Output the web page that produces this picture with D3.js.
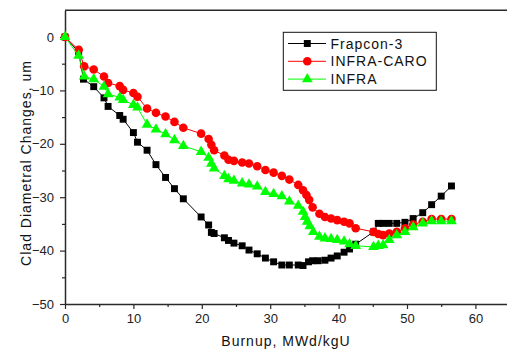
<!DOCTYPE html>
<html>
<head>
<meta charset="utf-8">
<script src="https://cdn.jsdelivr.net/npm/d3@7"></script>
<style>
  html, body { margin: 0; padding: 0; background: #fff; }
  svg { display: block; font-family: "Liberation Sans", Arial, sans-serif; }
</style>
</head>
<body>
<svg id="chart" width="507" height="352"></svg>
<script>
// ---- data ----
const frapconX = [0, 2.0, 2.7, 4.2, 5.7, 6.3, 8.0, 8.5, 10.0, 10.6, 12.0, 13.3, 14.7, 16.0, 17.3, 19.9, 21.0, 21.4, 21.8, 23.3, 23.9, 24.7, 25.9, 26.9, 28.1, 29.3, 30.5, 31.7, 32.8, 34.1, 34.8, 35.6, 36.2, 37.0, 38.0, 38.9, 39.8, 40.8, 41.6, 42.5, 45.1, 45.8, 46.5, 47.4, 48.5, 49.7, 50.9, 52.3, 53.6, 55.0, 56.5];
const frapconY = [0, -2.8, -7.9, -9.3, -11.4, -13.0, -14.7, -15.4, -17.9, -19.7, -21.2, -23.9, -26.3, -28.4, -30.3, -33.7, -35.2, -36.6, -36.8, -37.6, -38.1, -38.6, -39.1, -39.9, -40.6, -41.4, -42.1, -42.7, -42.7, -42.7, -42.8, -42.1, -41.9, -41.9, -41.8, -41.4, -41.0, -40.3, -39.7, -38.8, -36.5, -34.9, -34.9, -34.9, -34.9, -34.7, -34.0, -32.9, -31.4, -29.8, -27.9];

const caroX = [0, 2.0, 2.8, 4.2, 5.7, 6.3, 8.0, 8.5, 10.0, 10.6, 12.0, 13.3, 14.7, 16.0, 17.3, 19.9, 21.0, 21.4, 21.8, 23.3, 23.9, 24.7, 25.9, 26.9, 28.1, 29.3, 30.5, 31.7, 32.8, 34.1, 34.8, 35.3, 35.7, 36.2, 37.2, 38.0, 38.9, 39.8, 40.8, 41.6, 42.5, 45.1, 45.8, 46.5, 47.4, 48.5, 49.7, 50.9, 52.3, 53.6, 55.0, 56.5];
const caroY = [0, -2.4, -5.5, -6.1, -7.4, -8.6, -9.2, -9.9, -10.5, -11.2, -13.4, -14.2, -14.9, -15.9, -17.0, -18.1, -19.1, -20.2, -21.2, -22.2, -23.0, -23.2, -23.5, -23.7, -24.2, -24.9, -25.4, -26.0, -26.7, -27.7, -28.7, -29.6, -30.5, -31.9, -33.1, -33.7, -34.0, -34.3, -34.6, -34.9, -35.8, -36.5, -36.9, -37.1, -36.8, -36.5, -35.8, -35.1, -34.6, -34.1, -34.1, -34.1];

const infraX = [0, 2.0, 2.8, 4.2, 5.7, 6.3, 8.0, 8.5, 10.0, 10.6, 12.0, 13.3, 14.7, 16.0, 17.3, 19.9, 21.0, 21.4, 21.8, 23.3, 23.9, 24.7, 25.9, 26.9, 28.1, 29.3, 30.5, 31.7, 32.8, 34.1, 34.8, 35.1, 35.4, 35.8, 36.3, 37.2, 38.0, 38.9, 39.8, 40.8, 41.6, 42.5, 45.1, 45.8, 46.5, 47.4, 48.5, 49.7, 50.9, 52.3, 53.6, 55.0, 56.5];
const infraY = [0, -3.5, -7.4, -7.9, -9.3, -10.7, -11.3, -11.8, -12.7, -13.2, -16.4, -17.3, -18.2, -19.3, -20.4, -21.5, -22.6, -23.7, -24.6, -26.0, -26.6, -26.9, -27.4, -27.6, -28.0, -29.0, -29.4, -29.8, -30.8, -31.6, -32.7, -33.7, -34.6, -35.4, -36.5, -37.4, -37.7, -37.8, -38.0, -38.3, -38.8, -39.1, -39.3, -39.1, -39.0, -38.0, -37.1, -36.5, -35.6, -34.9, -34.5, -34.5, -34.5];

const seriesNames = ["Frapcon-3", "INFRA-CARO", "INFRA"];
const xMajorTicks = [0, 10, 20, 30, 40, 50, 60];
const xMinorTicks = [5, 15, 25, 35, 45, 55, 65];
const yMajorTicks = [-50, -40, -30, -20, -10, 0];
const yMinorTicks = [-45, -35, -25, -15, -5];
const xTitle = "Burnup, MWd/kgU";
const yTitle = "Clad Diametral Changes, um";

// ---- chart ----
const svg = d3.select("#chart");
const x = d3.scaleLinear().domain([0, 65]).range([65, 509.6]);
const y = d3.scaleLinear().domain([-50, 5]).range([304, 10.3]);

const series = [
  { name: seriesNames[0], xs: frapconX, ys: frapconY, color: "#000000", shape: d3.symbolSquare, size: 48 },
  { name: seriesNames[1], xs: caroX, ys: caroY, color: "#ff0000", shape: d3.symbolCircle, size: 58 },
  { name: seriesNames[2], xs: infraX, ys: infraY, color: "#00ff00", shape: d3.symbolTriangle, size: 50 }
];

const axisColor = "#2a2a2a";

// top frame line
svg.append("line")
  .attr("x1", x(0)).attr("x2", x(65))
  .attr("y1", y(5)).attr("y2", y(5))
  .attr("stroke", axisColor).attr("stroke-width", 1.5);

// X axis
const gx = svg.append("g").attr("transform", `translate(0,${y(-50)})`);
gx.call(d3.axisBottom(x).tickValues(xMajorTicks).tickSize(5).tickSizeOuter(0).tickPadding(5).tickFormat(d3.format("d")));
const gxm = svg.append("g").attr("transform", `translate(0,${y(-50)})`);
gxm.call(d3.axisBottom(x).tickValues(xMinorTicks).tickSize(3).tickSizeOuter(0).tickFormat(""));
gxm.select(".domain").remove();

// Y axis
const gy = svg.append("g").attr("transform", `translate(${x(0)},0)`);
gy.call(d3.axisLeft(y).tickValues(yMajorTicks).tickSize(5).tickSizeOuter(0).tickPadding(6).tickFormat(d3.format("d")));
const gym = svg.append("g").attr("transform", `translate(${x(0)},0)`);
gym.call(d3.axisLeft(y).tickValues(yMinorTicks).tickSize(3).tickSizeOuter(0).tickFormat(""));
gym.select(".domain").remove();

svg.selectAll(".domain").attr("stroke", axisColor).attr("stroke-width", 1.5);
svg.selectAll(".tick line").attr("stroke", axisColor).attr("stroke-width", 1.2);
svg.selectAll(".tick text")
  .attr("font-family", "'Liberation Sans', Arial, sans-serif")
  .attr("font-size", 13).attr("fill", "#222");

// axis titles
svg.append("text")
  .attr("x", (x(0) + 507) / 2).attr("y", 346)
  .attr("text-anchor", "middle")
  .attr("font-size", 14).attr("letter-spacing", 1).attr("fill", "#111")
  .text(xTitle);
svg.append("text")
  .attr("transform", `translate(31,${163}) rotate(-90)`)
  .attr("text-anchor", "middle")
  .attr("font-size", 14).attr("letter-spacing", 1).attr("fill", "#111")
  .text(yTitle);

// series lines & markers
const line = d3.line();
series.forEach(s => {
  const pts = s.xs.map((v, i) => [x(v), y(s.ys[i])]);
  svg.append("path")
    .attr("d", line(pts))
    .attr("fill", "none")
    .attr("stroke", s.color)
    .attr("stroke-width", 1);
  svg.append("g").selectAll("path")
    .data(pts)
    .join("path")
    .attr("transform", d => `translate(${d[0]},${d[1]})`)
    .attr("d", d3.symbol().type(s.shape).size(s.size))
    .attr("fill", s.color);
});

// legend
const lg = svg.append("g");
lg.append("rect")
  .attr("x", 283.3).attr("y", 32.3)
  .attr("width", 153).attr("height", 58)
  .attr("fill", "#fff").attr("stroke", "#111").attr("stroke-width", 1);
series.forEach((s, i) => {
  const cy = 43.5 + i * 17.8;
  lg.append("line")
    .attr("x1", 288).attr("x2", 326)
    .attr("y1", cy).attr("y2", cy)
    .attr("stroke", s.color).attr("stroke-width", 1);
  lg.append("path")
    .attr("transform", `translate(307.3,${cy})`)
    .attr("d", d3.symbol().type(s.shape).size(s.size))
    .attr("fill", s.color);
  lg.append("text")
    .attr("x", 330.5).attr("y", cy + 5)
    .attr("font-size", 14).attr("letter-spacing", 1).attr("fill", "#111")
    .text(s.name);
});
</script>
</body>
</html>
